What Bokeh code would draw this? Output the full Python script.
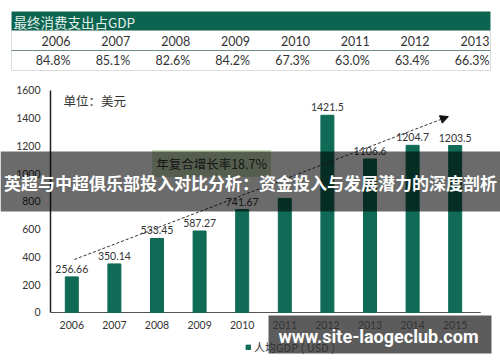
from bokeh.plotting import figure
from bokeh.models import (ColumnDataSource, Label, LabelSet, BoxAnnotation, Arrow,
                          NormalHead, Legend, LegendItem)
from bokeh.core.properties import value
from bokeh.embed import file_html
from bokeh.resources import INLINE

# ---- data ----
years = ["2006", "2007", "2008", "2009", "2010", "2011", "2012", "2013", "2014", "2015"]
gdp = [256.66, 350.14, 533.45, 587.27, 741.67, 822.0, 1421.5, 1106.6, 1204.7, 1203.5]
gdp_labels = ["256.66", "350.14", "533.45", "587.27", "741.67", "", "1421.5", "1106.6", "1204.7", "1203.5"]
y_ticks = [0, 200, 400, 600, 800, 1000, 1200, 1400, 1600]

table_years = ["2006", "2007", "2008", "2009", "2010", "2011", "2012", "2013"]
table_pcts = ["84.8%", "85.1%", "82.6%", "84.2%", "67.3%", "63.0%", "63.4%", "66.3%"]

trend_start = (0.06, 382)
trend_end = (8.84, 1412)
growth_text = "年复合增长率18.7%"
unit_text = "单位：美元"
legend_text = "人均GDP ( USD )"
table_title = "最终消费支出占GDP"
banner_text = "英超与中超俱乐部投入对比分析：资金投入与发展潜力的深度剖析"
watermark_text = "www.site-laogeclub.com"

BAR = "#0f6b56"
HEAD = "#0b6450"
TXT = "#333333"
FONT = "Lato"
CJK = "Noto Sans CJK SC"

W, H = 500, 362
p = figure(width=W, height=H, x_range=(-1.6737, 10.0634), y_range=(-360.4, 2248.6),
           output_backend="svg", toolbar_location=None, x_axis_type=None, y_axis_type=None,
           min_border=0)
p.min_border_left = p.min_border_right = p.min_border_top = p.min_border_bottom = 0
p.outline_line_color = None
p.xgrid.grid_line_color = None
p.ygrid.grid_line_color = None
p.background_fill_color = "white"
p.border_fill_color = "white"

xs = list(range(len(years)))
x_lo, x_hi = -0.5, 9.6

# axis lines and tick labels (drawn through the data scales)
p.segment(x0=[x_lo], y0=[0], x1=[x_lo], y1=[y_ticks[-1]], line_color="#222222", line_width=1.5)
p.segment(x0=[x_lo], y0=[0], x1=[x_hi], y1=[0], line_color="#555555", line_width=1.2)
p.text(x=[x_lo] * len(y_ticks), y=y_ticks, text=[str(t) for t in y_ticks],
       x_offset=-10, text_align="right", text_baseline="middle",
       text_font=value(FONT), text_font_size="10.5px", text_color=TXT)
p.text(x=xs, y=[0] * len(xs), text=years, y_offset=9,
       text_align="center", text_baseline="top",
       text_font=value(FONT), text_font_size="10.5px", text_color=TXT)

src = ColumnDataSource(dict(x=xs, top=gdp, label=gdp_labels))
bars = p.vbar(x="x", top="top", width=0.305, color=BAR, source=src)
p.text(x="x", y="top", text="label", source=src, y_offset=-4,
       text_align="center", text_baseline="bottom",
       text_font=value(FONT), text_font_size="10.5px", text_color=TXT)

# trend arrow
p.add_layout(Arrow(x_start=trend_start[0], y_start=trend_start[1],
                   x_end=trend_end[0], y_end=trend_end[1],
                   line_color="#333333", line_width=1, line_dash="3 2",
                   end=NormalHead(size=8, fill_color="#111111", line_color="#111111")))

p.add_layout(Label(x=3.28, y=1074, text=growth_text, text_align="center",
                   text_baseline="middle", text_font_size="12.5px", text_font=CJK,
                   text_color=TXT, background_fill_color="#cce0bd", padding=4))
p.add_layout(Label(x=-0.195, y=1528, text=unit_text, text_align="left",
                   text_baseline="middle", text_font_size="12.5px", text_font=CJK,
                   text_color=TXT))

# legend
leg = Legend(items=[LegendItem(label=legend_text, renderers=[bars])],
             location=(245, 7), glyph_width=6, glyph_height=6, label_standoff=3,
             label_height=12, label_width=10, padding=0, margin=0, spacing=0,
             border_line_color=None, background_fill_alpha=0,
             label_text_font_size="11px", label_text_color=TXT, label_text_font=CJK)
p.add_layout(leg, "center")

def sbox(left, right, top, bottom, **kw):
    return BoxAnnotation(left=left, right=right, top=top, bottom=bottom,
                         left_units="screen", right_units="screen",
                         top_units="screen", bottom_units="screen", **kw)

# table (screen units: origin bottom-left of the canvas)
p.add_layout(sbox(11, 490, 351, 332, fill_color=HEAD, fill_alpha=1,
                  line_color="#9fbfb3", line_width=1))
p.add_layout(sbox(11, 490, 332, 292, fill_alpha=0, line_color="#8a8a8a", line_width=1))
p.add_layout(sbox(11, 490, 312.5, 311.5, fill_color="#6f8f86", fill_alpha=1, line_color=None))
p.add_layout(Label(x=13, y=341, x_units="screen", y_units="screen",
                   text=table_title, text_align="left", text_baseline="middle",
                   text_font_size="13.5px", text_font=CJK, text_color="#e3f0ea"))
n = len(table_years)
tsrc = ColumnDataSource(dict(x=[70 + 59.85 * i for i in range(n)] * 2,
                             y=[322] * n + [302] * n,
                             text=table_years + table_pcts))
p.add_layout(LabelSet(x="x", y="y", text="text", source=tsrc,
                      x_units="screen", y_units="screen",
                      text_align="right", text_baseline="middle",
                      text_font_size="12.5px", text_font=value(FONT), text_color=TXT))

# overlay banner
p.add_layout(sbox(0, 500, 211, 151, fill_color="black", fill_alpha=0.58, line_color=None))
p.add_layout(Label(x=250, y=180, x_units="screen", y_units="screen",
                   text=banner_text, text_align="center", text_baseline="middle",
                   text_font_size="17px", text_font_style="bold", text_font=CJK,
                   text_color="white"))

# watermark
p.add_layout(sbox(268, 491, 47, 9, fill_color="#333333", fill_alpha=0.8, line_color=None))
p.add_layout(Label(x=378, y=26, x_units="screen", y_units="screen",
                   text=watermark_text, text_align="center", text_baseline="middle",
                   text_font_size="18px", text_font_style="bold", text_font="Roboto",
                   text_color="white"))

open("out.html", "w").write(file_html(p, INLINE))
